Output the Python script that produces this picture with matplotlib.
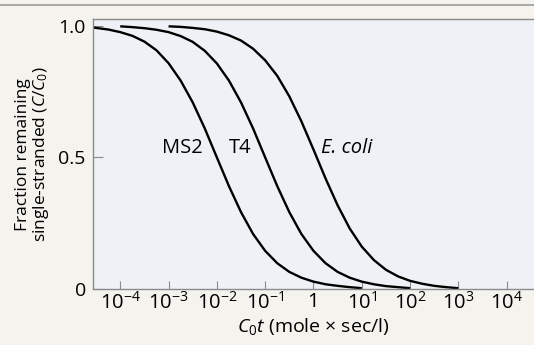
import numpy as np
import matplotlib
matplotlib.use("Agg")
import matplotlib.pyplot as plt
from matplotlib.lines import Line2D
from matplotlib.ticker import FixedLocator, FuncFormatter

plt.rcParams['font.family'] = ['Open Sans', 'DejaVu Sans']
plt.rcParams['mathtext.fontset'] = 'custom'
plt.rcParams['mathtext.rm'] = 'Open Sans'
plt.rcParams['mathtext.it'] = 'Open Sans:italic'

# log10 of C0t (quarter-decade steps)
ms2_logx = [-4.6, -4.5, -4.25, -4.0, -3.75, -3.5, -3.25, -3.0, -2.75, -2.5, -2.25, -2.0,
            -1.75, -1.5, -1.25, -1.0, -0.75, -0.5, -0.25, 0.0, 0.25, 0.5, 0.75, 1.0]
ms2_frac = [0.995, 0.992, 0.986, 0.976, 0.962, 0.940, 0.907, 0.858, 0.792, 0.709, 0.610, 0.500,
            0.391, 0.292, 0.209, 0.145, 0.098, 0.065, 0.043, 0.028, 0.018, 0.012, 0.007, 0.003]

t4_logx = [-4.0, -3.75, -3.5, -3.25, -3.0, -2.75, -2.5, -2.25, -2.0, -1.75, -1.5, -1.25, -1.0,
           -0.75, -0.5, -0.25, 0.0, 0.25, 0.5, 0.75, 1.0, 1.25, 1.5, 1.75, 2.0]
t4_frac = [0.998, 0.995, 0.991, 0.985, 0.976, 0.961, 0.939, 0.905, 0.857, 0.792, 0.709, 0.610, 0.500,
           0.391, 0.292, 0.209, 0.145, 0.098, 0.065, 0.043, 0.028, 0.018, 0.011, 0.007, 0.003]

ecoli_logx = [-3.0, -2.75, -2.5, -2.25, -2.0, -1.75, -1.5, -1.25, -1.0, -0.75, -0.5, -0.25, 0.0,
              0.25, 0.5, 0.75, 1.0, 1.25, 1.5, 1.75, 2.0, 2.25, 2.5, 2.75, 3.0]
ecoli_frac = [0.998, 0.996, 0.992, 0.987, 0.978, 0.964, 0.944, 0.913, 0.869, 0.810, 0.732, 0.637, 0.530,
              0.420, 0.318, 0.230, 0.161, 0.110, 0.073, 0.048, 0.031, 0.020, 0.012, 0.007, 0.003]

xtick_exp = [-4, -3, -2, -1, 0, 1, 2, 3, 4]
ytick_vals = [0, 0.5, 1.0]
ytick_labels = ["0", "0.5", "1.0"]

fig = plt.figure(figsize=(5.34, 3.45), dpi=100)
fig.patch.set_facecolor('#f5f3ee')
ax = fig.add_axes([0.1736, 0.1623, 0.8264, 0.7812])
ax.set_facecolor('#eef1f6')

for lx, fr in [(ms2_logx, ms2_frac), (t4_logx, t4_frac), (ecoli_logx, ecoli_frac)]:
    ax.plot(10 ** np.array(lx), fr, color='black', lw=1.7, solid_capstyle='butt')

ax.set_xscale('log')
ax.set_xlim(10 ** -4.57, 10 ** 4.565)
ax.set_ylim(0, 1.024)

ax.xaxis.set_major_locator(FixedLocator([10.0 ** e for e in xtick_exp]))
ax.xaxis.set_minor_locator(FixedLocator([]))

def fmt(v, pos):
    e = int(round(np.log10(v)))
    if e == 0:
        return "1"
    return r"10$^{%d}$" % e

ax.xaxis.set_major_formatter(FuncFormatter(fmt))
ax.set_yticks(ytick_vals)
ax.set_yticklabels(ytick_labels)

for s in ['left', 'bottom', 'top']:
    ax.spines[s].set_color('#8a8a8a')
    ax.spines[s].set_linewidth(1.0)
ax.spines['right'].set_visible(False)
ax.tick_params(axis='x', direction='in', length=6, color='#8a8a8a', labelsize=14.5, pad=2)
ax.tick_params(axis='y', direction='in', length=7, color='#8a8a8a', labelsize=14, pad=5)

ax.text(10 ** -2.72, 0.535, "MS2", fontsize=14.5, ha='center', va='center')
ax.text(10 ** -1.52, 0.535, "T4", fontsize=14.5, ha='center', va='center')
ax.text(10 ** 0.15, 0.535, "E. coli", fontsize=14.5, ha='left', va='center', style='italic')

ax.set_xlabel(r"$C_0t$ (mole $\times$ sec/l)", fontsize=14, labelpad=2)
ax.set_ylabel("Fraction remaining\nsingle-stranded ($C/C_0$)", fontsize=12.5, labelpad=5,
              linespacing=1.0)

fig.add_artist(Line2D([0, 1], [1 - 5 / 345, 1 - 5 / 345], color='#9a9a9a', lw=1.2))

fig.savefig("out.png", dpi=100, facecolor=fig.get_facecolor())
